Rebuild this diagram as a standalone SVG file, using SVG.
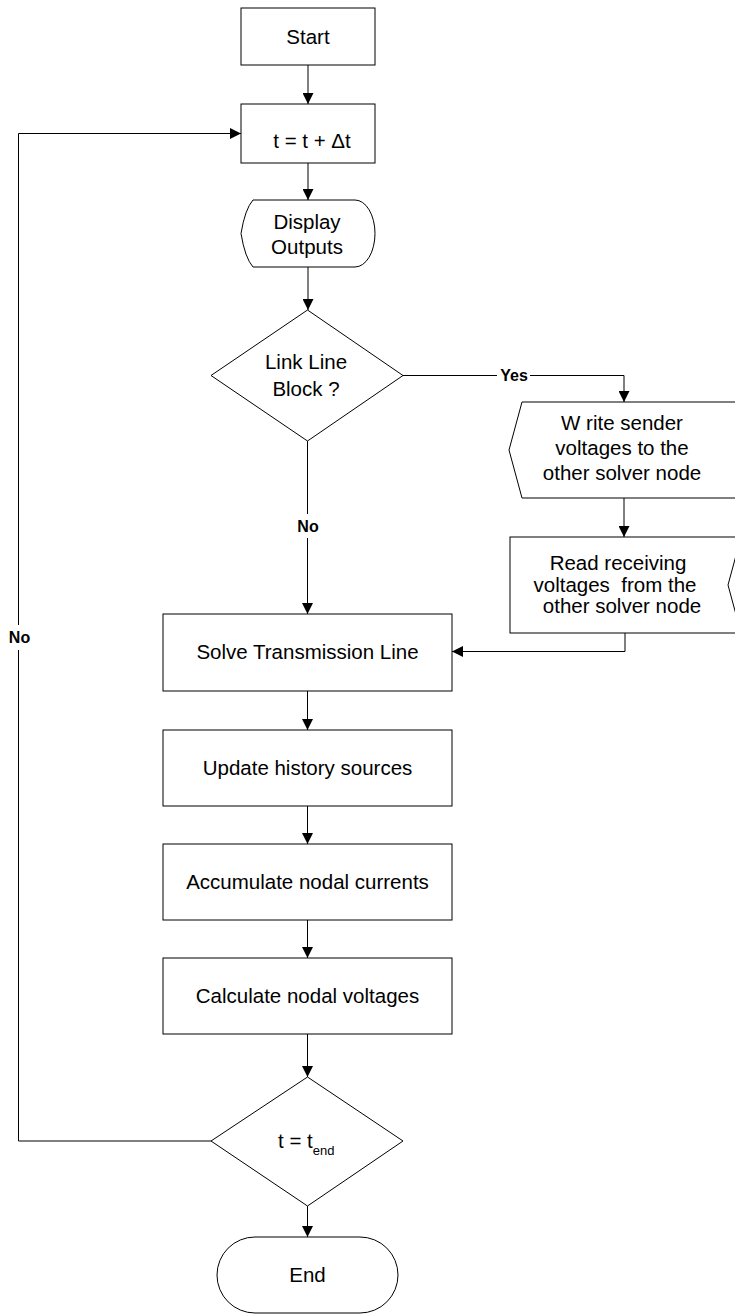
<svg xmlns="http://www.w3.org/2000/svg" width="735" height="1314" viewBox="0 0 735 1314">
  <defs>
    <marker id="arrow" markerUnits="userSpaceOnUse" markerWidth="11" markerHeight="11" refX="11" refY="5.5" orient="auto">
      <path d="M0,0 L11,5.5 L0,11 z" fill="#000"/>
    </marker>
    <style>
      .shape { fill: #fff; stroke: #000; stroke-width: 1; }
      .txt { font-family: "Liberation Sans", Arial, sans-serif; font-size: 20.5px; fill: #000; text-anchor: middle; }
      .lbl { font-family: "Liberation Sans", Arial, sans-serif; font-size: 16px; font-weight: bold; fill: #000; text-anchor: middle; }
      .conn { fill: none; stroke: #000; stroke-width: 1; }
      .arr { marker-end: url(#arrow); }
      .gap { fill: #fff; stroke: none; }
    </style>
  </defs>
  <rect width="735" height="1314" fill="#fff"/>

  <!-- connectors -->
  <g id="connectors">
    <path class="conn arr" d="M308,65 V104"/>
    <path class="conn arr" d="M308,163 V200"/>
    <path class="conn arr" d="M308,267 V310"/>
    <path class="conn arr" d="M403,375.5 H624 V402"/>
    <path class="conn arr" d="M624,498 V537"/>
    <path class="conn arr" d="M625,633 V651.5 H452"/>
    <path class="conn arr" d="M307.5,441 V614"/>
    <path class="conn arr" d="M307.5,691 V730"/>
    <path class="conn arr" d="M307.5,806 V844"/>
    <path class="conn arr" d="M307.5,920 V958"/>
    <path class="conn arr" d="M307.5,1034 V1077"/>
    <path class="conn arr" d="M307.5,1206 V1237"/>
    <path class="conn arr" d="M211,1141 H18.5 V133.5 H241"/>
    <!-- labels on connectors -->
    <rect class="gap" x="497" y="366" width="33" height="18"/>
    <text class="lbl" x="514" y="381">Yes</text>
    <rect class="gap" x="295" y="514" width="26" height="24"/>
    <text class="lbl" x="308" y="531.5">No</text>
    <rect class="gap" x="6" y="625" width="26" height="25"/>
    <text class="lbl" x="19.5" y="643">No</text>
  </g>

  <g id="start">
    <rect class="shape" x="241" y="8" width="134" height="57"/>
    <text class="txt" x="308" y="44">Start</text>
  </g>

  <g id="step">
    <rect class="shape" x="241" y="104" width="134" height="59"/>
    <text class="txt" x="312" y="148">t = t + Δt</text>
  </g>

  <g id="display">
    <path class="shape" d="M253,200 H355 A20,33.5 0 0 1 355,267 H253 Q245,258 241,233.5 Q245,209 253,200 Z"/>
    <text class="txt" x="307" y="229">Display</text>
    <text class="txt" x="307" y="254">Outputs</text>
  </g>

  <g id="link-check">
    <polygon class="shape" points="307.5,310 403,375.5 307.5,441 211,375.5"/>
    <text class="txt" x="306" y="369">Link Line</text>
    <text class="txt" x="306" y="396">Block ?</text>
  </g>

  <g id="write-sender">
    <polygon class="shape" points="522,402 745,402 745,498 522,498 509,450"/>
    <text class="txt" x="622" y="430">W rite sender</text>
    <text class="txt" x="622" y="455">voltages to the</text>
    <text class="txt" x="622" y="480">other solver node</text>
  </g>

  <g id="read-receiving">
    <rect class="shape" x="510" y="537" width="240" height="96"/>
    <text class="txt" x="618" y="570">Read receiving</text>
    <text class="txt" x="615" y="591.5" xml:space="preserve">voltages  from the</text>
    <text class="txt" x="622" y="613">other solver node</text>
    <polyline class="conn" points="741,537 728,585 741,633"/>
  </g>

  <g id="solve-line">
    <rect class="shape" x="163" y="614" width="289" height="77"/>
    <text class="txt" x="307.5" y="659">Solve Transmission Line</text>
  </g>

  <g id="update-history">
    <rect class="shape" x="163" y="730" width="289" height="76"/>
    <text class="txt" x="307.5" y="775">Update history sources</text>
  </g>

  <g id="accumulate-currents">
    <rect class="shape" x="163" y="844" width="289" height="76"/>
    <text class="txt" x="307.5" y="889">Accumulate nodal currents</text>
  </g>

  <g id="calculate-voltages">
    <rect class="shape" x="163" y="958" width="289" height="76"/>
    <text class="txt" x="307.5" y="1003">Calculate nodal voltages</text>
  </g>

  <g id="end-check">
    <polygon class="shape" points="307.5,1077 403,1141 307.5,1206 211,1141"/>
    <text class="txt" x="278" y="1148" style="text-anchor:start">t = t<tspan dy="7" font-size="13">end</tspan></text>
  </g>

  <g id="end">
    <rect class="shape" x="217" y="1237" width="181" height="76" rx="38" ry="38"/>
    <text class="txt" x="307.5" y="1282">End</text>
  </g>
</svg>
